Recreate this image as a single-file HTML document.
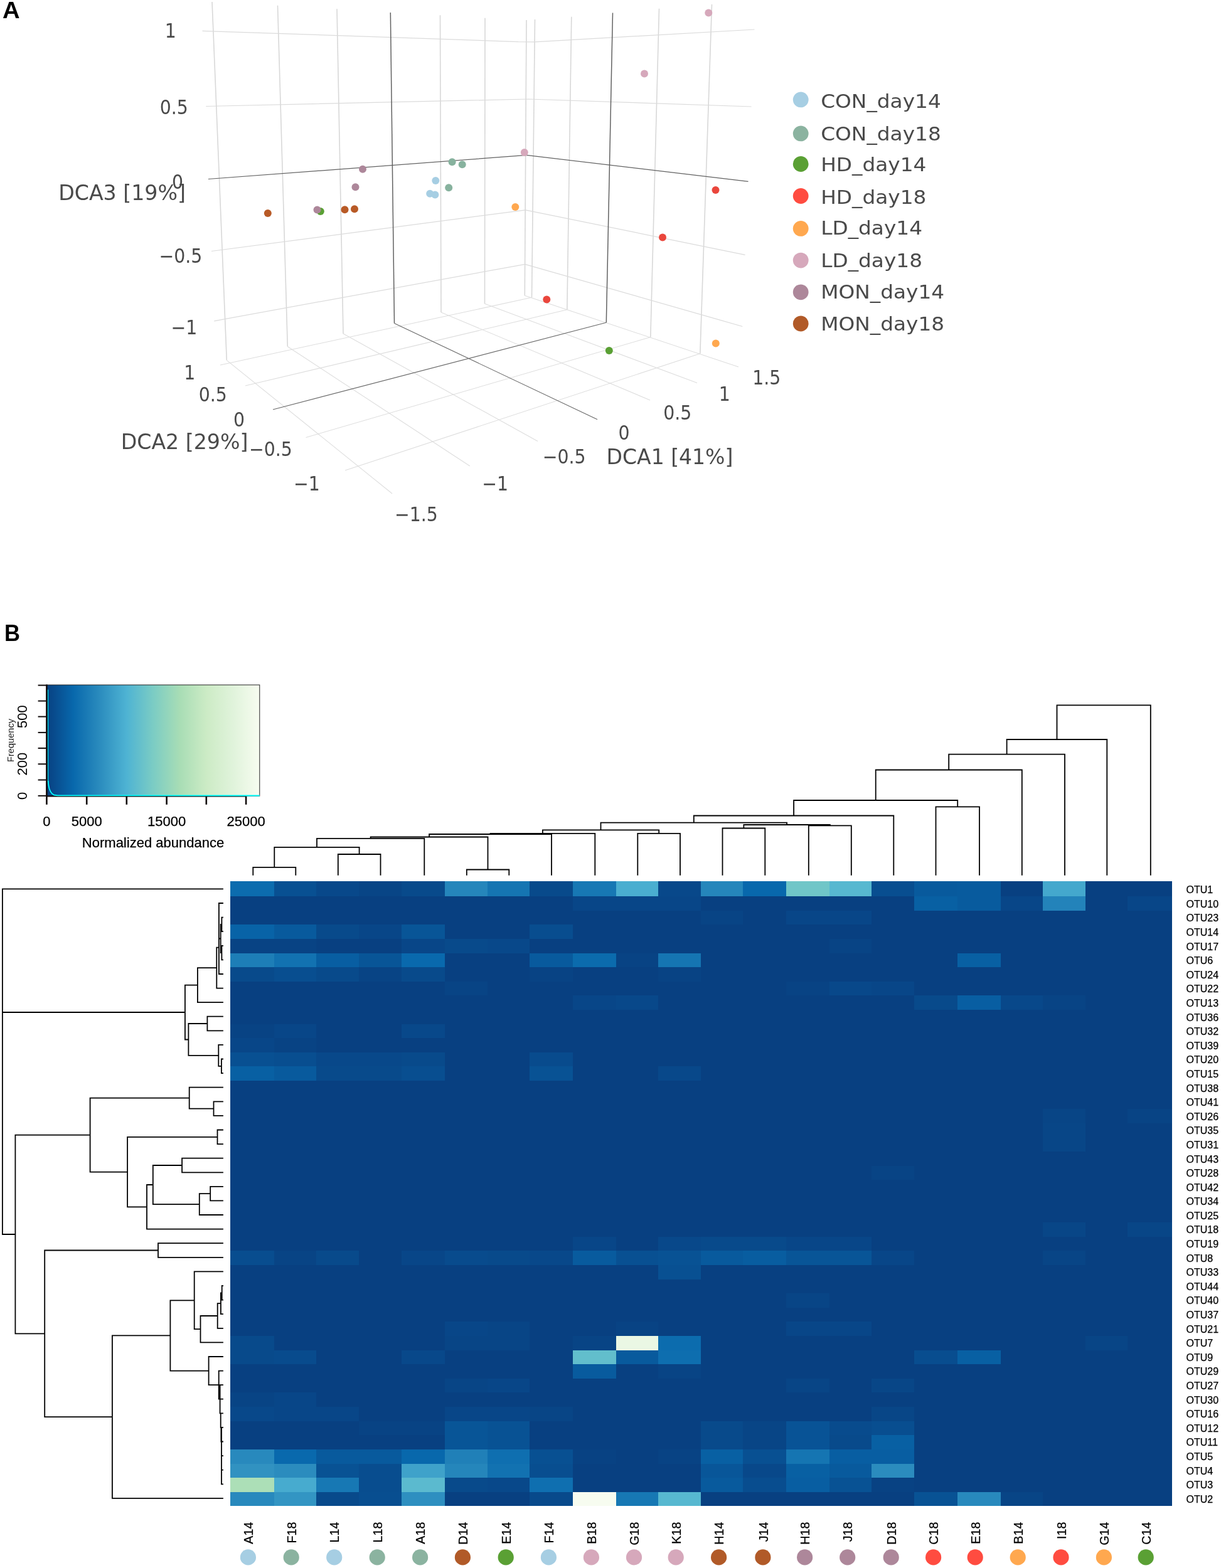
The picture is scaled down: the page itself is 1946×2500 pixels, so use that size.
<!DOCTYPE html>
<html lang="en"><head><meta charset="utf-8"><title>Figure</title>
<style>
html,body{margin:0;padding:0;background:#fff}
svg{display:block}
text{white-space:pre}
</style></head>
<body>
<svg width="1946" height="2500" viewBox="0 0 1946 2500">
<rect x="0" y="0" width="1946" height="2500" fill="#ffffff"/>
<g id="panelA" fill="none" stroke-linecap="butt">
<line x1="338.0" y1="3.0" x2="361.3" y2="574.3" stroke="#d8d8d8" stroke-width="1.6" />
<line x1="442.5" y1="8.8" x2="458.3" y2="552.5" stroke="#d8d8d8" stroke-width="1.6" />
<line x1="537.0" y1="14.3" x2="547.0" y2="532.0" stroke="#d8d8d8" stroke-width="1.6" />
<line x1="701.5" y1="24.3" x2="703.0" y2="498.0" stroke="#d8d8d8" stroke-width="1.6" />
<line x1="773.0" y1="28.8" x2="772.5" y2="484.3" stroke="#d8d8d8" stroke-width="1.6" />
<line x1="839.0" y1="32.0" x2="836.3" y2="471.3" stroke="#d8d8d8" stroke-width="1.6" />
<line x1="852.5" y1="31.0" x2="847.5" y2="474.3" stroke="#d8d8d8" stroke-width="1.6" />
<line x1="910.8" y1="26.8" x2="903.8" y2="493.8" stroke="#d8d8d8" stroke-width="1.6" />
<line x1="1050.5" y1="13.8" x2="1036.8" y2="537.5" stroke="#d8d8d8" stroke-width="1.6" />
<line x1="1134.5" y1="7.0" x2="1115.8" y2="563.8" stroke="#d8d8d8" stroke-width="1.6" />
<line x1="351.0" y1="582.0" x2="847.5" y2="474.3" stroke="#dddddd" stroke-width="1.05" />
<line x1="391.0" y1="615.0" x2="903.8" y2="493.8" stroke="#dddddd" stroke-width="1.05" />
<line x1="487.5" y1="697.5" x2="1036.8" y2="537.5" stroke="#dddddd" stroke-width="1.05" />
<line x1="550.0" y1="750.0" x2="1115.8" y2="563.8" stroke="#dddddd" stroke-width="1.05" />
<line x1="361.3" y1="574.3" x2="625.0" y2="787.0" stroke="#dddddd" stroke-width="1.05" />
<line x1="458.3" y1="552.5" x2="748.8" y2="743.0" stroke="#dddddd" stroke-width="1.05" />
<line x1="547.0" y1="532.0" x2="857.0" y2="703.5" stroke="#dddddd" stroke-width="1.05" />
<line x1="703.0" y1="498.0" x2="1036.0" y2="638.0" stroke="#dddddd" stroke-width="1.05" />
<line x1="772.5" y1="484.3" x2="1111.0" y2="610.5" stroke="#dddddd" stroke-width="1.05" />
<line x1="836.3" y1="471.3" x2="1177.0" y2="585.0" stroke="#dddddd" stroke-width="1.05" />
<polyline points="322.5,49.3 826,66.6 852,66.9 1202.5,47" stroke="#dbdbdb" stroke-width="1.25" stroke-linejoin="round"/>
<polyline points="328.3,169.5 842,158 1197.5,170" stroke="#dbdbdb" stroke-width="1.25" stroke-linejoin="round"/>
<polyline points="337,400.5 837.5,334.8 1187.5,406.3" stroke="#dbdbdb" stroke-width="1.25" stroke-linejoin="round"/>
<polyline points="341.3,511.8 836.8,421.3 1183.3,520.5" stroke="#dbdbdb" stroke-width="1.25" stroke-linejoin="round"/>
<line x1="622.3" y1="20.0" x2="628.5" y2="515.5" stroke="#626262" stroke-width="1.5" />
<line x1="976.5" y1="20.5" x2="966.3" y2="514.3" stroke="#626262" stroke-width="1.5" />
<line x1="435.0" y1="653.0" x2="966.3" y2="514.3" stroke="#686868" stroke-width="1.1" />
<line x1="628.5" y1="515.5" x2="952.0" y2="668.8" stroke="#686868" stroke-width="1.1" />
<polyline points="332,285.5 839,247.4 1192.5,289.3" stroke="#606060" stroke-width="1.2" stroke-linejoin="round"/>
</g>
<g id="pts">
<circle cx="1129.3" cy="20.5" r="6.0" fill="#d6a8bb"/>
<circle cx="1027" cy="117.5" r="6.0" fill="#d6a8bb"/>
<circle cx="835.8" cy="243" r="6.0" fill="#d6a8bb"/>
<circle cx="720.6" cy="258.2" r="6.0" fill="#87b29e"/>
<circle cx="736.7" cy="262.3" r="6.0" fill="#87b29e"/>
<circle cx="715.2" cy="299.3" r="6.0" fill="#87b29e"/>
<circle cx="694.3" cy="288" r="6.0" fill="#a6cee3"/>
<circle cx="685.2" cy="308.8" r="6.0" fill="#a6cee3"/>
<circle cx="693.4" cy="310.4" r="6.0" fill="#a6cee3"/>
<circle cx="510.8" cy="337" r="6.0" fill="#5aa034"/>
<circle cx="970.8" cy="559" r="6.0" fill="#5aa034"/>
<circle cx="578" cy="269.7" r="6.0" fill="#ad879a"/>
<circle cx="566.5" cy="298.2" r="6.0" fill="#ad879a"/>
<circle cx="505.5" cy="334.5" r="6.0" fill="#ad879a"/>
<circle cx="426.8" cy="340" r="6.0" fill="#b85a26"/>
<circle cx="549.5" cy="334.3" r="6.0" fill="#b85a26"/>
<circle cx="565" cy="333.3" r="6.0" fill="#b85a26"/>
<circle cx="821.3" cy="330" r="6.0" fill="#ffa84f"/>
<circle cx="1140.8" cy="547.5" r="6.0" fill="#ffa84f"/>
<circle cx="1140.5" cy="303" r="6.0" fill="#ea463c"/>
<circle cx="1056" cy="378.5" r="6.0" fill="#ea463c"/>
<circle cx="871.3" cy="477.5" r="6.0" fill="#ea463c"/>
</g>
<g id="ticksA">
<text id="t1" x="271.80" y="59.70" font-family="'DejaVu Sans Condensed','DejaVu Sans',sans-serif" font-size="31.5" fill="#4a4a4a" text-anchor="middle" >1</text>
<text id="t2" x="277.20" y="182.00" font-family="'DejaVu Sans Condensed','DejaVu Sans',sans-serif" font-size="31.5" fill="#4a4a4a" text-anchor="middle" >0.5</text>
<text id="t3" x="283.00" y="301.40" font-family="'DejaVu Sans Condensed','DejaVu Sans',sans-serif" font-size="31.5" fill="#4a4a4a" text-anchor="middle" >0</text>
<text id="t4" x="288.00" y="418.80" font-family="'DejaVu Sans Condensed','DejaVu Sans',sans-serif" font-size="31.5" fill="#4a4a4a" text-anchor="middle" >−0.5</text>
<text id="t5" x="293.50" y="532.60" font-family="'DejaVu Sans Condensed','DejaVu Sans',sans-serif" font-size="31.5" fill="#4a4a4a" text-anchor="middle" >−1</text>
<text id="t6" x="302.20" y="604.60" font-family="'DejaVu Sans Condensed','DejaVu Sans',sans-serif" font-size="31.5" fill="#4a4a4a" text-anchor="middle" >1</text>
<text id="t7" x="339.30" y="639.60" font-family="'DejaVu Sans Condensed','DejaVu Sans',sans-serif" font-size="31.5" fill="#4a4a4a" text-anchor="middle" >0.5</text>
<text id="t8" x="381.00" y="680.00" font-family="'DejaVu Sans Condensed','DejaVu Sans',sans-serif" font-size="31.5" fill="#4a4a4a" text-anchor="middle" >0</text>
<text id="t9" x="431.30" y="727.30" font-family="'DejaVu Sans Condensed','DejaVu Sans',sans-serif" font-size="31.5" fill="#4a4a4a" text-anchor="middle" >−0.5</text>
<text id="t10" x="489.00" y="782.10" font-family="'DejaVu Sans Condensed','DejaVu Sans',sans-serif" font-size="31.5" fill="#4a4a4a" text-anchor="middle" >−1</text>
<text id="t11" x="1221.70" y="612.90" font-family="'DejaVu Sans Condensed','DejaVu Sans',sans-serif" font-size="31.5" fill="#4a4a4a" text-anchor="middle" >1.5</text>
<text id="t12" x="1154.80" y="638.80" font-family="'DejaVu Sans Condensed','DejaVu Sans',sans-serif" font-size="31.5" fill="#4a4a4a" text-anchor="middle" >1</text>
<text id="t13" x="1079.70" y="668.50" font-family="'DejaVu Sans Condensed','DejaVu Sans',sans-serif" font-size="31.5" fill="#4a4a4a" text-anchor="middle" >0.5</text>
<text id="t14" x="994.60" y="701.40" font-family="'DejaVu Sans Condensed','DejaVu Sans',sans-serif" font-size="31.5" fill="#4a4a4a" text-anchor="middle" >0</text>
<text id="t15" x="899.10" y="738.90" font-family="'DejaVu Sans Condensed','DejaVu Sans',sans-serif" font-size="31.5" fill="#4a4a4a" text-anchor="middle" >−0.5</text>
<text id="t16" x="789.20" y="781.70" font-family="'DejaVu Sans Condensed','DejaVu Sans',sans-serif" font-size="31.5" fill="#4a4a4a" text-anchor="middle" >−1</text>
<text id="t17" x="663.40" y="831.10" font-family="'DejaVu Sans Condensed','DejaVu Sans',sans-serif" font-size="31.5" fill="#4a4a4a" text-anchor="middle" >−1.5</text>
</g>
<g id="titlesA">
<text id="t18" transform="translate(194.50 318.80) scale(1.085 1)" font-family="'DejaVu Sans Condensed','DejaVu Sans',sans-serif" font-size="34.0" fill="#4a4a4a" text-anchor="middle" >DCA3 [19%]</text>
<text id="t19" transform="translate(294.00 716.40) scale(1.085 1)" font-family="'DejaVu Sans Condensed','DejaVu Sans',sans-serif" font-size="34.0" fill="#4a4a4a" text-anchor="middle" >DCA2 [29%]</text>
<text id="t20" transform="translate(1067.50 739.80) scale(1.08 1)" font-family="'DejaVu Sans Condensed','DejaVu Sans',sans-serif" font-size="34.0" fill="#4a4a4a" text-anchor="middle" >DCA1 [41%]</text>
</g>
<g id="legend">
<circle cx="1276.2" cy="158.9" r="12.4" fill="#a6cee3"/>
<text id="t21" transform="translate(1308.20 172.10) scale(1.064 1)" font-family="'DejaVu Sans','Liberation Sans',sans-serif" font-size="30.8" fill="#4a4a4a" text-anchor="start" >CON_day14</text>
<circle cx="1276.2" cy="212.9" r="12.4" fill="#8bb3a0"/>
<text id="t22" transform="translate(1308.20 223.80) scale(1.064 1)" font-family="'DejaVu Sans','Liberation Sans',sans-serif" font-size="30.8" fill="#4a4a4a" text-anchor="start" >CON_day18</text>
<circle cx="1276.2" cy="261.5" r="12.4" fill="#5aa034"/>
<text id="t23" transform="translate(1308.20 273.20) scale(1.064 1)" font-family="'DejaVu Sans','Liberation Sans',sans-serif" font-size="30.8" fill="#4a4a4a" text-anchor="start" >HD_day14</text>
<circle cx="1276.2" cy="312.5" r="12.4" fill="#ff4c40"/>
<text id="t24" transform="translate(1308.20 325.00) scale(1.064 1)" font-family="'DejaVu Sans','Liberation Sans',sans-serif" font-size="30.8" fill="#4a4a4a" text-anchor="start" >HD_day18</text>
<circle cx="1276.2" cy="364.4" r="12.4" fill="#ffa84f"/>
<text id="t25" transform="translate(1308.20 374.40) scale(1.064 1)" font-family="'DejaVu Sans','Liberation Sans',sans-serif" font-size="30.8" fill="#4a4a4a" text-anchor="start" >LD_day14</text>
<circle cx="1276.2" cy="415.1" r="12.4" fill="#d6a8bb"/>
<text id="t26" transform="translate(1308.20 425.70) scale(1.064 1)" font-family="'DejaVu Sans','Liberation Sans',sans-serif" font-size="30.8" fill="#4a4a4a" text-anchor="start" >LD_day18</text>
<circle cx="1276.2" cy="465.8" r="12.4" fill="#ad879a"/>
<text id="t27" transform="translate(1308.20 475.60) scale(1.064 1)" font-family="'DejaVu Sans','Liberation Sans',sans-serif" font-size="30.8" fill="#4a4a4a" text-anchor="start" >MON_day14</text>
<circle cx="1276.2" cy="516.0" r="12.4" fill="#b15a28"/>
<text id="t28" transform="translate(1308.20 527.40) scale(1.064 1)" font-family="'DejaVu Sans','Liberation Sans',sans-serif" font-size="30.8" fill="#4a4a4a" text-anchor="start" >MON_day18</text>
</g>
<text id="t29" transform="translate(4.10 28.90) scale(1.05 1)" font-family="'Liberation Sans','DejaVu Sans',sans-serif" font-size="36.4" fill="#000000" text-anchor="start" font-weight="bold" >A</text>
<text id="t30" transform="translate(6.90 1022.10) scale(0.95 1)" font-family="'Liberation Sans','DejaVu Sans',sans-serif" font-size="36.4" fill="#000000" text-anchor="start" font-weight="bold" >B</text>
<defs><linearGradient id="gk" x1="0" y1="0" x2="1" y2="0"><stop offset="0.0000" stop-color="#084081"/><stop offset="0.1250" stop-color="#0868AC"/><stop offset="0.2500" stop-color="#2B8CBE"/><stop offset="0.3750" stop-color="#4EB3D3"/><stop offset="0.5000" stop-color="#7BCCC4"/><stop offset="0.6250" stop-color="#A8DDB5"/><stop offset="0.7500" stop-color="#CCEBC5"/><stop offset="0.8750" stop-color="#E0F3DB"/><stop offset="1.0000" stop-color="#F7FCF0"/></linearGradient></defs>
<g id="key">
<rect x="74.4" y="1092.0" width="339.4" height="177.1" fill="url(#gk)"/>
<rect x="74.4" y="1092.0" width="339.4" height="177.1" fill="none" stroke="#222" stroke-width="1"/>
<line x1="74.4" y1="1091.5" x2="74.4" y2="1269.7" stroke="#120c0c" stroke-width="2.6" />
<line x1="60.6" y1="1268.8" x2="74.4" y2="1268.8" stroke="#120c0c" stroke-width="2.0" />
<line x1="60.6" y1="1243.5" x2="74.4" y2="1243.5" stroke="#120c0c" stroke-width="2.0" />
<line x1="60.6" y1="1218.2" x2="74.4" y2="1218.2" stroke="#120c0c" stroke-width="2.0" />
<line x1="60.6" y1="1192.9" x2="74.4" y2="1192.9" stroke="#120c0c" stroke-width="2.0" />
<line x1="60.6" y1="1167.9" x2="74.4" y2="1167.9" stroke="#120c0c" stroke-width="2.0" />
<line x1="60.6" y1="1142.6" x2="74.4" y2="1142.6" stroke="#120c0c" stroke-width="2.0" />
<line x1="60.6" y1="1117.6" x2="74.4" y2="1117.6" stroke="#120c0c" stroke-width="2.0" />
<line x1="60.6" y1="1092.6" x2="74.4" y2="1092.6" stroke="#120c0c" stroke-width="2.0" />
<line x1="74.4" y1="1269.4" x2="392.1" y2="1269.4" stroke="#120c0c" stroke-width="2.0" />
<line x1="74.4" y1="1269.1" x2="74.4" y2="1282.8" stroke="#120c0c" stroke-width="2.6" />
<line x1="138.2" y1="1269.1" x2="138.2" y2="1282.8" stroke="#120c0c" stroke-width="2.6" />
<line x1="201.8" y1="1269.1" x2="201.8" y2="1282.8" stroke="#120c0c" stroke-width="2.6" />
<line x1="265.6" y1="1269.1" x2="265.6" y2="1282.8" stroke="#120c0c" stroke-width="2.6" />
<line x1="328.8" y1="1269.1" x2="328.8" y2="1282.8" stroke="#120c0c" stroke-width="2.6" />
<line x1="392.1" y1="1269.1" x2="392.1" y2="1282.8" stroke="#120c0c" stroke-width="2.6" />
<path d="M76.6 1099.5 L76.7 1246" fill="none" stroke="#00ffff" stroke-width="1.0"/>
<path d="M76.7 1245 L77.4 1252 L78.6 1257.5 L80.4 1262 L82.8 1265.3 L86 1267.5 L92 1268.3 L413.8 1268.5" fill="none" stroke="#00ffff" stroke-width="1.8" stroke-linejoin="round"/>
</g>
<g id="keytext">
<text id="t31" x="74.40" y="1316.60" font-family="'Liberation Sans','DejaVu Sans',sans-serif" font-size="22.0" fill="#000000" text-anchor="middle" stroke="#000" stroke-width="0.25">0</text>
<text id="t32" x="138.20" y="1316.60" font-family="'Liberation Sans','DejaVu Sans',sans-serif" font-size="22.0" fill="#000000" text-anchor="middle" stroke="#000" stroke-width="0.25">5000</text>
<text id="t33" x="265.60" y="1316.60" font-family="'Liberation Sans','DejaVu Sans',sans-serif" font-size="22.0" fill="#000000" text-anchor="middle" stroke="#000" stroke-width="0.25">15000</text>
<text id="t34" x="392.10" y="1316.60" font-family="'Liberation Sans','DejaVu Sans',sans-serif" font-size="22.0" fill="#000000" text-anchor="middle" stroke="#000" stroke-width="0.25">25000</text>
<text id="t35" x="244.00" y="1350.90" font-family="'Liberation Sans','DejaVu Sans',sans-serif" font-size="22.0" fill="#000000" text-anchor="middle" stroke="#000" stroke-width="0.25">Normalized abundance</text>
<text transform="translate(43.2 1268.8) rotate(-90)" font-family="'Liberation Sans','DejaVu Sans',sans-serif" font-size="22.0" fill="#000000" text-anchor="middle">0</text>
<text transform="translate(43.2 1218.2) rotate(-90)" font-family="'Liberation Sans','DejaVu Sans',sans-serif" font-size="22.0" fill="#000000" text-anchor="middle">200</text>
<text transform="translate(43.2 1142.6) rotate(-90)" font-family="'Liberation Sans','DejaVu Sans',sans-serif" font-size="22.0" fill="#000000" text-anchor="middle">500</text>
<text transform="translate(22.0 1180.5) rotate(-90)" font-family="'Liberation Sans','DejaVu Sans',sans-serif" font-size="14.6" fill="#222" text-anchor="middle">Frequency</text>
</g>
<g id="heat" shape-rendering="crispEdges">
<rect x="367.2" y="1404.8" width="1500.6" height="996.5" fill="#084081"/>
<rect x="367.20" y="1404.80" width="69.50" height="24.30" fill="#0c6cae"/>
<rect x="436.70" y="1404.80" width="67.30" height="24.30" fill="#085092"/>
<rect x="504.00" y="1404.80" width="67.80" height="24.30" fill="#08488a"/>
<rect x="571.80" y="1404.80" width="68.20" height="24.30" fill="#084586"/>
<rect x="640.00" y="1404.80" width="68.80" height="24.30" fill="#084a8b"/>
<rect x="708.80" y="1404.80" width="68.10" height="24.30" fill="#2586bb"/>
<rect x="776.90" y="1404.80" width="67.10" height="24.30" fill="#1575b2"/>
<rect x="844.00" y="1404.80" width="68.50" height="24.30" fill="#084a8b"/>
<rect x="912.50" y="1404.80" width="69.10" height="24.30" fill="#1778b4"/>
<rect x="981.60" y="1404.80" width="67.80" height="24.30" fill="#4aaed0"/>
<rect x="1049.40" y="1404.80" width="67.50" height="24.30" fill="#08488a"/>
<rect x="1116.90" y="1404.80" width="67.30" height="24.30" fill="#2586bb"/>
<rect x="1184.20" y="1404.80" width="69.20" height="24.30" fill="#0868ac"/>
<rect x="1253.40" y="1404.80" width="68.50" height="24.30" fill="#70c6c8"/>
<rect x="1321.90" y="1404.80" width="67.50" height="24.30" fill="#57b8d0"/>
<rect x="1389.40" y="1404.80" width="67.50" height="24.30" fill="#084e90"/>
<rect x="1456.90" y="1404.80" width="69.00" height="24.30" fill="#085a9d"/>
<rect x="1525.90" y="1404.80" width="68.70" height="24.30" fill="#085b9e"/>
<rect x="1661.90" y="1404.80" width="67.70" height="24.30" fill="#44a8cd"/>
<rect x="912.50" y="1429.10" width="204.40" height="22.61" fill="#084688"/>
<rect x="1456.90" y="1429.10" width="69.00" height="22.61" fill="#0860a3"/>
<rect x="1525.90" y="1429.10" width="68.70" height="22.61" fill="#085b9e"/>
<rect x="1594.60" y="1429.10" width="67.30" height="22.61" fill="#084688"/>
<rect x="1661.90" y="1429.10" width="67.70" height="22.61" fill="#2383ba"/>
<rect x="1797.20" y="1429.10" width="70.60" height="22.61" fill="#084688"/>
<rect x="1116.90" y="1451.71" width="67.30" height="22.61" fill="#084485"/>
<rect x="1253.40" y="1451.71" width="136.00" height="22.61" fill="#084688"/>
<rect x="367.20" y="1474.32" width="69.50" height="22.61" fill="#0863a7"/>
<rect x="436.70" y="1474.32" width="67.30" height="22.61" fill="#085a9d"/>
<rect x="504.00" y="1474.32" width="67.80" height="22.61" fill="#084a8b"/>
<rect x="571.80" y="1474.32" width="68.20" height="22.61" fill="#084688"/>
<rect x="640.00" y="1474.32" width="68.80" height="22.61" fill="#085597"/>
<rect x="844.00" y="1474.32" width="68.50" height="22.61" fill="#084d8f"/>
<rect x="367.20" y="1496.93" width="136.80" height="22.61" fill="#084384"/>
<rect x="640.00" y="1496.93" width="68.80" height="22.61" fill="#084688"/>
<rect x="708.80" y="1496.93" width="68.10" height="22.61" fill="#084a8b"/>
<rect x="776.90" y="1496.93" width="67.10" height="22.61" fill="#08488a"/>
<rect x="1321.90" y="1496.93" width="67.50" height="22.61" fill="#084485"/>
<rect x="367.20" y="1519.54" width="69.50" height="22.61" fill="#1d7eb7"/>
<rect x="436.70" y="1519.54" width="67.30" height="22.61" fill="#1272b1"/>
<rect x="504.00" y="1519.54" width="67.80" height="22.61" fill="#085ea2"/>
<rect x="571.80" y="1519.54" width="68.20" height="22.61" fill="#085597"/>
<rect x="640.00" y="1519.54" width="68.80" height="22.61" fill="#0969ad"/>
<rect x="844.00" y="1519.54" width="68.50" height="22.61" fill="#085a9d"/>
<rect x="912.50" y="1519.54" width="69.10" height="22.61" fill="#0b6bad"/>
<rect x="981.60" y="1519.54" width="67.80" height="22.61" fill="#084384"/>
<rect x="1049.40" y="1519.54" width="67.50" height="22.61" fill="#1575b2"/>
<rect x="1525.90" y="1519.54" width="68.70" height="22.61" fill="#0860a3"/>
<rect x="367.20" y="1542.15" width="69.50" height="22.61" fill="#084a8b"/>
<rect x="436.70" y="1542.15" width="67.30" height="22.61" fill="#084e90"/>
<rect x="504.00" y="1542.15" width="67.80" height="22.61" fill="#084a8b"/>
<rect x="571.80" y="1542.15" width="68.20" height="22.61" fill="#084485"/>
<rect x="640.00" y="1542.15" width="68.80" height="22.61" fill="#084a8b"/>
<rect x="844.00" y="1542.15" width="68.50" height="22.61" fill="#084384"/>
<rect x="1049.40" y="1542.15" width="67.50" height="22.61" fill="#084384"/>
<rect x="708.80" y="1564.76" width="68.10" height="22.61" fill="#084485"/>
<rect x="1253.40" y="1564.76" width="68.50" height="22.61" fill="#084384"/>
<rect x="1321.90" y="1564.76" width="67.50" height="22.61" fill="#08488a"/>
<rect x="1389.40" y="1564.76" width="67.50" height="22.61" fill="#084688"/>
<rect x="912.50" y="1587.37" width="69.10" height="22.61" fill="#084688"/>
<rect x="981.60" y="1587.37" width="67.80" height="22.61" fill="#08488a"/>
<rect x="1456.90" y="1587.37" width="69.00" height="22.61" fill="#084a8b"/>
<rect x="1525.90" y="1587.37" width="68.70" height="22.61" fill="#085ea2"/>
<rect x="1594.60" y="1587.37" width="67.30" height="22.61" fill="#08488a"/>
<rect x="1661.90" y="1587.37" width="67.70" height="22.61" fill="#084485"/>
<rect x="367.20" y="1632.59" width="69.50" height="22.61" fill="#084384"/>
<rect x="436.70" y="1632.59" width="67.30" height="22.61" fill="#084688"/>
<rect x="640.00" y="1632.59" width="68.80" height="22.61" fill="#08488a"/>
<rect x="367.20" y="1655.20" width="69.50" height="22.61" fill="#084688"/>
<rect x="436.70" y="1655.20" width="67.30" height="22.61" fill="#084384"/>
<rect x="367.20" y="1677.81" width="69.50" height="22.61" fill="#085092"/>
<rect x="436.70" y="1677.81" width="67.30" height="22.61" fill="#084e90"/>
<rect x="504.00" y="1677.81" width="136.00" height="22.61" fill="#08488a"/>
<rect x="640.00" y="1677.81" width="68.80" height="22.61" fill="#084a8b"/>
<rect x="844.00" y="1677.81" width="68.50" height="22.61" fill="#084b8d"/>
<rect x="367.20" y="1700.42" width="69.50" height="22.61" fill="#0860a3"/>
<rect x="436.70" y="1700.42" width="67.30" height="22.61" fill="#085a9d"/>
<rect x="504.00" y="1700.42" width="136.00" height="22.61" fill="#084a8b"/>
<rect x="640.00" y="1700.42" width="68.80" height="22.61" fill="#084e90"/>
<rect x="844.00" y="1700.42" width="68.50" height="22.61" fill="#085294"/>
<rect x="1049.40" y="1700.42" width="67.50" height="22.61" fill="#08488a"/>
<rect x="1661.90" y="1768.25" width="67.70" height="22.61" fill="#084586"/>
<rect x="1797.20" y="1768.25" width="70.60" height="22.61" fill="#084485"/>
<rect x="1661.90" y="1790.86" width="67.70" height="22.61" fill="#084687"/>
<rect x="1661.90" y="1813.47" width="67.70" height="22.61" fill="#084687"/>
<rect x="1389.40" y="1858.69" width="67.50" height="22.61" fill="#084485"/>
<rect x="1661.90" y="1949.13" width="67.70" height="22.61" fill="#084687"/>
<rect x="1797.20" y="1949.13" width="70.60" height="22.61" fill="#084687"/>
<rect x="912.50" y="1971.74" width="69.10" height="22.61" fill="#084688"/>
<rect x="1049.40" y="1971.74" width="67.50" height="22.61" fill="#08488a"/>
<rect x="1116.90" y="1971.74" width="136.50" height="22.61" fill="#084a8b"/>
<rect x="1253.40" y="1971.74" width="136.00" height="22.61" fill="#084688"/>
<rect x="367.20" y="1994.35" width="69.50" height="22.61" fill="#084d8f"/>
<rect x="436.70" y="1994.35" width="67.30" height="22.61" fill="#084485"/>
<rect x="504.00" y="1994.35" width="67.80" height="22.61" fill="#084a8b"/>
<rect x="640.00" y="1994.35" width="68.80" height="22.61" fill="#084688"/>
<rect x="708.80" y="1994.35" width="68.10" height="22.61" fill="#084b8d"/>
<rect x="776.90" y="1994.35" width="67.10" height="22.61" fill="#084a8b"/>
<rect x="844.00" y="1994.35" width="68.50" height="22.61" fill="#08488a"/>
<rect x="912.50" y="1994.35" width="69.10" height="22.61" fill="#085b9e"/>
<rect x="981.60" y="1994.35" width="67.80" height="22.61" fill="#085092"/>
<rect x="1049.40" y="1994.35" width="67.50" height="22.61" fill="#085294"/>
<rect x="1116.90" y="1994.35" width="67.30" height="22.61" fill="#085a9d"/>
<rect x="1184.20" y="1994.35" width="69.20" height="22.61" fill="#085da0"/>
<rect x="1253.40" y="1994.35" width="136.00" height="22.61" fill="#085597"/>
<rect x="1389.40" y="1994.35" width="67.50" height="22.61" fill="#084688"/>
<rect x="1661.90" y="1994.35" width="67.70" height="22.61" fill="#084586"/>
<rect x="1049.40" y="2016.96" width="67.50" height="22.61" fill="#085092"/>
<rect x="1253.40" y="2062.18" width="68.50" height="22.61" fill="#084586"/>
<rect x="708.80" y="2107.40" width="68.10" height="22.61" fill="#084688"/>
<rect x="776.90" y="2107.40" width="67.10" height="22.61" fill="#084586"/>
<rect x="981.60" y="2107.40" width="67.80" height="22.61" fill="#084384"/>
<rect x="1253.40" y="2107.40" width="136.00" height="22.61" fill="#084688"/>
<rect x="367.20" y="2130.01" width="69.50" height="22.61" fill="#084a8b"/>
<rect x="708.80" y="2130.01" width="135.20" height="22.61" fill="#084586"/>
<rect x="912.50" y="2130.01" width="69.10" height="22.61" fill="#084485"/>
<rect x="981.60" y="2130.01" width="67.80" height="22.61" fill="#eaf7e4"/>
<rect x="1049.40" y="2130.01" width="67.50" height="22.61" fill="#0c6cae"/>
<rect x="1729.60" y="2130.01" width="67.60" height="22.61" fill="#084586"/>
<rect x="367.20" y="2152.62" width="69.50" height="22.61" fill="#084a8b"/>
<rect x="436.70" y="2152.62" width="67.30" height="22.61" fill="#084b8d"/>
<rect x="640.00" y="2152.62" width="68.80" height="22.61" fill="#08488a"/>
<rect x="912.50" y="2152.62" width="69.10" height="22.61" fill="#62becc"/>
<rect x="981.60" y="2152.62" width="67.80" height="22.61" fill="#085a9d"/>
<rect x="1049.40" y="2152.62" width="67.50" height="22.61" fill="#0e6eaf"/>
<rect x="1456.90" y="2152.62" width="69.00" height="22.61" fill="#084d8f"/>
<rect x="1525.90" y="2152.62" width="68.70" height="22.61" fill="#0860a3"/>
<rect x="912.50" y="2175.23" width="69.10" height="22.61" fill="#085b9e"/>
<rect x="1049.40" y="2175.23" width="67.50" height="22.61" fill="#084485"/>
<rect x="708.80" y="2197.84" width="68.10" height="22.61" fill="#084586"/>
<rect x="776.90" y="2197.84" width="67.10" height="22.61" fill="#084688"/>
<rect x="1253.40" y="2197.84" width="68.50" height="22.61" fill="#084586"/>
<rect x="1389.40" y="2197.84" width="67.50" height="22.61" fill="#084687"/>
<rect x="367.20" y="2220.45" width="69.50" height="22.61" fill="#084485"/>
<rect x="436.70" y="2220.45" width="67.30" height="22.61" fill="#084688"/>
<rect x="367.20" y="2243.06" width="69.50" height="22.61" fill="#08488a"/>
<rect x="436.70" y="2243.06" width="135.10" height="22.61" fill="#084688"/>
<rect x="708.80" y="2243.06" width="135.20" height="22.61" fill="#084688"/>
<rect x="844.00" y="2243.06" width="68.50" height="22.61" fill="#084586"/>
<rect x="1389.40" y="2243.06" width="67.50" height="22.61" fill="#084687"/>
<rect x="571.80" y="2265.67" width="137.00" height="22.61" fill="#084384"/>
<rect x="708.80" y="2265.67" width="68.10" height="22.61" fill="#085597"/>
<rect x="776.90" y="2265.67" width="67.10" height="22.61" fill="#085294"/>
<rect x="1116.90" y="2265.67" width="67.30" height="22.61" fill="#084a8b"/>
<rect x="1184.20" y="2265.67" width="69.20" height="22.61" fill="#084586"/>
<rect x="1253.40" y="2265.67" width="68.50" height="22.61" fill="#085396"/>
<rect x="1321.90" y="2265.67" width="67.50" height="22.61" fill="#084b8d"/>
<rect x="1389.40" y="2265.67" width="67.50" height="22.61" fill="#084e90"/>
<rect x="708.80" y="2288.28" width="68.10" height="22.61" fill="#085597"/>
<rect x="776.90" y="2288.28" width="67.10" height="22.61" fill="#085294"/>
<rect x="1116.90" y="2288.28" width="67.30" height="22.61" fill="#084a8b"/>
<rect x="1184.20" y="2288.28" width="69.20" height="22.61" fill="#084586"/>
<rect x="1253.40" y="2288.28" width="68.50" height="22.61" fill="#085396"/>
<rect x="1321.90" y="2288.28" width="67.50" height="22.61" fill="#084a8b"/>
<rect x="1389.40" y="2288.28" width="67.50" height="22.61" fill="#0860a3"/>
<rect x="367.20" y="2310.89" width="69.50" height="22.61" fill="#2889bd"/>
<rect x="436.70" y="2310.89" width="67.30" height="22.61" fill="#0969ad"/>
<rect x="504.00" y="2310.89" width="136.00" height="22.61" fill="#085a9d"/>
<rect x="640.00" y="2310.89" width="68.80" height="22.61" fill="#0868ac"/>
<rect x="708.80" y="2310.89" width="68.10" height="22.61" fill="#2080b8"/>
<rect x="776.90" y="2310.89" width="67.10" height="22.61" fill="#0f6fb0"/>
<rect x="844.00" y="2310.89" width="68.50" height="22.61" fill="#085092"/>
<rect x="912.50" y="2310.89" width="69.10" height="22.61" fill="#084283"/>
<rect x="1049.40" y="2310.89" width="67.50" height="22.61" fill="#084384"/>
<rect x="1116.90" y="2310.89" width="67.30" height="22.61" fill="#0860a3"/>
<rect x="1184.20" y="2310.89" width="69.20" height="22.61" fill="#085092"/>
<rect x="1253.40" y="2310.89" width="68.50" height="22.61" fill="#1575b2"/>
<rect x="1321.90" y="2310.89" width="135.00" height="22.61" fill="#085ea2"/>
<rect x="367.20" y="2333.50" width="69.50" height="22.61" fill="#3192c1"/>
<rect x="436.70" y="2333.50" width="67.30" height="22.61" fill="#2b8cbe"/>
<rect x="504.00" y="2333.50" width="67.80" height="22.61" fill="#085294"/>
<rect x="571.80" y="2333.50" width="68.20" height="22.61" fill="#084d8f"/>
<rect x="640.00" y="2333.50" width="68.80" height="22.61" fill="#3fa2ca"/>
<rect x="708.80" y="2333.50" width="68.10" height="22.61" fill="#2586bb"/>
<rect x="776.90" y="2333.50" width="67.10" height="22.61" fill="#1272b1"/>
<rect x="844.00" y="2333.50" width="68.50" height="22.61" fill="#084e90"/>
<rect x="1116.90" y="2333.50" width="67.30" height="22.61" fill="#085699"/>
<rect x="1184.20" y="2333.50" width="69.20" height="22.61" fill="#08488a"/>
<rect x="1253.40" y="2333.50" width="68.50" height="22.61" fill="#0860a3"/>
<rect x="1321.90" y="2333.50" width="67.50" height="22.61" fill="#085a9d"/>
<rect x="1389.40" y="2333.50" width="67.50" height="22.61" fill="#2b8cbe"/>
<rect x="367.20" y="2356.11" width="69.50" height="22.61" fill="#acdfb7"/>
<rect x="436.70" y="2356.11" width="67.30" height="22.61" fill="#47abcf"/>
<rect x="504.00" y="2356.11" width="67.80" height="22.61" fill="#1778b4"/>
<rect x="571.80" y="2356.11" width="68.20" height="22.61" fill="#084d8f"/>
<rect x="640.00" y="2356.11" width="68.80" height="22.61" fill="#5bbacf"/>
<rect x="708.80" y="2356.11" width="68.10" height="22.61" fill="#084a8b"/>
<rect x="776.90" y="2356.11" width="67.10" height="22.61" fill="#08488a"/>
<rect x="844.00" y="2356.11" width="68.50" height="22.61" fill="#0f6fb0"/>
<rect x="1116.90" y="2356.11" width="67.30" height="22.61" fill="#085a9d"/>
<rect x="1184.20" y="2356.11" width="69.20" height="22.61" fill="#084d8f"/>
<rect x="1253.40" y="2356.11" width="68.50" height="22.61" fill="#085ea2"/>
<rect x="1321.90" y="2356.11" width="67.50" height="22.61" fill="#085294"/>
<rect x="1389.40" y="2356.11" width="67.50" height="22.61" fill="#084283"/>
<rect x="367.20" y="2378.72" width="69.50" height="22.58" fill="#2889bd"/>
<rect x="436.70" y="2378.72" width="67.30" height="22.58" fill="#3395c3"/>
<rect x="504.00" y="2378.72" width="67.80" height="22.58" fill="#084a8b"/>
<rect x="571.80" y="2378.72" width="68.20" height="22.58" fill="#084e90"/>
<rect x="640.00" y="2378.72" width="68.80" height="22.58" fill="#2e8fc0"/>
<rect x="844.00" y="2378.72" width="68.50" height="22.58" fill="#084a8b"/>
<rect x="912.50" y="2378.72" width="69.10" height="22.58" fill="#f7fcf0"/>
<rect x="981.60" y="2378.72" width="67.80" height="22.58" fill="#1778b4"/>
<rect x="1049.40" y="2378.72" width="67.50" height="22.58" fill="#57b8d0"/>
<rect x="1456.90" y="2378.72" width="69.00" height="22.58" fill="#085294"/>
<rect x="1525.90" y="2378.72" width="68.70" height="22.58" fill="#2889bd"/>
<rect x="1594.60" y="2378.72" width="67.30" height="22.58" fill="#084586"/>
</g>
<g id="otu" font-family="'Liberation Sans','DejaVu Sans',sans-serif" font-size="16" fill="#000000" stroke="#000000" stroke-width="0.25">
<text x="1890.6" y="1424.2">OTU1</text>
<text x="1890.6" y="1446.8">OTU10</text>
<text x="1890.6" y="1469.4">OTU23</text>
<text x="1890.6" y="1492.0">OTU14</text>
<text x="1890.6" y="1514.6">OTU17</text>
<text x="1890.6" y="1537.2">OTU6</text>
<text x="1890.6" y="1559.8">OTU24</text>
<text x="1890.6" y="1582.4">OTU22</text>
<text x="1890.6" y="1604.9">OTU13</text>
<text x="1890.6" y="1627.5">OTU36</text>
<text x="1890.6" y="1650.1">OTU32</text>
<text x="1890.6" y="1672.7">OTU39</text>
<text x="1890.6" y="1695.3">OTU20</text>
<text x="1890.6" y="1717.9">OTU15</text>
<text x="1890.6" y="1740.5">OTU38</text>
<text x="1890.6" y="1763.1">OTU41</text>
<text x="1890.6" y="1785.7">OTU26</text>
<text x="1890.6" y="1808.3">OTU35</text>
<text x="1890.6" y="1830.9">OTU31</text>
<text x="1890.6" y="1853.5">OTU43</text>
<text x="1890.6" y="1876.1">OTU28</text>
<text x="1890.6" y="1898.7">OTU42</text>
<text x="1890.6" y="1921.2">OTU34</text>
<text x="1890.6" y="1943.8">OTU25</text>
<text x="1890.6" y="1966.4">OTU18</text>
<text x="1890.6" y="1989.0">OTU19</text>
<text x="1890.6" y="2011.6">OTU8</text>
<text x="1890.6" y="2034.2">OTU33</text>
<text x="1890.6" y="2056.8">OTU44</text>
<text x="1890.6" y="2079.4">OTU40</text>
<text x="1890.6" y="2102.0">OTU37</text>
<text x="1890.6" y="2124.6">OTU21</text>
<text x="1890.6" y="2147.2">OTU7</text>
<text x="1890.6" y="2169.8">OTU9</text>
<text x="1890.6" y="2192.4">OTU29</text>
<text x="1890.6" y="2215.0">OTU27</text>
<text x="1890.6" y="2237.5">OTU30</text>
<text x="1890.6" y="2260.1">OTU16</text>
<text x="1890.6" y="2282.7">OTU12</text>
<text x="1890.6" y="2305.3">OTU11</text>
<text x="1890.6" y="2327.9">OTU5</text>
<text x="1890.6" y="2350.5">OTU4</text>
<text x="1890.6" y="2373.1">OTU3</text>
<text x="1890.6" y="2395.7">OTU2</text>
</g>
<g id="collab" font-family="'Liberation Sans','DejaVu Sans',sans-serif" font-size="19.7" fill="#000000" stroke="#000000" stroke-width="0.25" text-anchor="end">
<text transform="translate(403.1 2426.6) rotate(-90)">A14</text>
<text transform="translate(471.9 2426.6) rotate(-90)">F18</text>
<text transform="translate(540.4 2426.6) rotate(-90)">L14</text>
<text transform="translate(608.9 2426.6) rotate(-90)">L18</text>
<text transform="translate(677.3 2426.6) rotate(-90)">A18</text>
<text transform="translate(745.1 2426.6) rotate(-90)">D14</text>
<text transform="translate(813.9 2426.6) rotate(-90)">E14</text>
<text transform="translate(882.1 2426.6) rotate(-90)">F14</text>
<text transform="translate(950.1 2426.6) rotate(-90)">B18</text>
<text transform="translate(1018.2 2426.6) rotate(-90)">G18</text>
<text transform="translate(1084.9 2426.6) rotate(-90)">K18</text>
<text transform="translate(1153.3 2426.6) rotate(-90)">H14</text>
<text transform="translate(1223.6 2426.6) rotate(-90)">J14</text>
<text transform="translate(1290.3 2426.6) rotate(-90)">H18</text>
<text transform="translate(1358.4 2426.6) rotate(-90)">J18</text>
<text transform="translate(1427.9 2426.6) rotate(-90)">D18</text>
<text transform="translate(1495.3 2426.6) rotate(-90)">C18</text>
<text transform="translate(1561.9 2426.6) rotate(-90)">E18</text>
<text transform="translate(1629.9 2426.6) rotate(-90)">B14</text>
<text transform="translate(1698.7 2426.6) rotate(-90)">I18</text>
<text transform="translate(1767.1 2426.6) rotate(-90)">G14</text>
<text transform="translate(1833.9 2426.6) rotate(-90)">C14</text>
</g>
<g id="colcirc">
<circle cx="395.4" cy="2482.9" r="12.6" fill="#a6cee3"/>
<circle cx="464.2" cy="2482.9" r="12.6" fill="#8bb3a0"/>
<circle cx="532.7" cy="2482.9" r="12.6" fill="#a6cee3"/>
<circle cx="601.2" cy="2482.9" r="12.6" fill="#8bb3a0"/>
<circle cx="669.6" cy="2482.9" r="12.6" fill="#8bb3a0"/>
<circle cx="737.4" cy="2482.9" r="12.6" fill="#b15a28"/>
<circle cx="806.2" cy="2482.9" r="12.6" fill="#5aa034"/>
<circle cx="874.4" cy="2482.9" r="12.6" fill="#a6cee3"/>
<circle cx="942.4" cy="2482.9" r="12.6" fill="#d6a8bb"/>
<circle cx="1010.5" cy="2482.9" r="12.6" fill="#d6a8bb"/>
<circle cx="1077.2" cy="2482.9" r="12.6" fill="#d6a8bb"/>
<circle cx="1145.6" cy="2482.9" r="12.6" fill="#b15a28"/>
<circle cx="1215.9" cy="2482.9" r="12.6" fill="#b15a28"/>
<circle cx="1282.6" cy="2482.9" r="12.6" fill="#ad879a"/>
<circle cx="1350.7" cy="2482.9" r="12.6" fill="#ad879a"/>
<circle cx="1420.2" cy="2482.9" r="12.6" fill="#ad879a"/>
<circle cx="1487.6" cy="2482.9" r="12.6" fill="#ff4c40"/>
<circle cx="1554.2" cy="2482.9" r="12.6" fill="#ff4c40"/>
<circle cx="1622.2" cy="2482.9" r="12.6" fill="#ffa84f"/>
<circle cx="1691" cy="2482.9" r="12.6" fill="#ff4c40"/>
<circle cx="1759.4" cy="2482.9" r="12.6" fill="#ffa84f"/>
<circle cx="1826.2" cy="2482.9" r="12.6" fill="#5aa034"/>
</g>
<path id="cdend" d="M403.3 1394.9L403.3 1382.8M471.3 1394.9L471.3 1382.8M403.3 1382.8L471.3 1382.8M538.8 1394.9L538.8 1362.0M606.5 1394.9L606.5 1362.0M538.8 1362.0L606.5 1362.0M437.3 1382.8L437.3 1350.8M572.6 1362.0L572.6 1350.8M437.3 1350.8L572.6 1350.8M505.0 1350.8L505.0 1336.8M676.3 1394.9L676.3 1336.8M505.0 1336.8L676.3 1336.8M743.8 1394.9L743.8 1386.5M811.3 1394.9L811.3 1386.5M743.8 1386.5L811.3 1386.5M590.6 1336.8L590.6 1334.5M777.5 1386.5L777.5 1334.5M590.6 1334.5L777.5 1334.5M684.1 1334.5L684.1 1330.0M879.0 1394.9L879.0 1330.0M684.1 1330.0L879.0 1330.0M781.5 1330.0L781.5 1328.8M948.3 1394.9L948.3 1328.8M781.5 1328.8L948.3 1328.8M1016.3 1394.9L1016.3 1328.8M1084.0 1394.9L1084.0 1328.8M1016.3 1328.8L1084.0 1328.8M864.9 1328.8L864.9 1323.3M1050.2 1328.8L1050.2 1323.3M864.9 1323.3L1050.2 1323.3M1151.5 1394.9L1151.5 1320.5M1219.3 1394.9L1219.3 1320.5M1151.5 1320.5L1219.3 1320.5M1288.8 1394.9L1288.8 1316.3M1356.8 1394.9L1356.8 1316.3M1288.8 1316.3L1356.8 1316.3M1185.4 1320.5L1185.4 1315.0M1322.8 1316.3L1322.8 1315.0M1185.4 1315.0L1322.8 1315.0M957.5 1323.3L957.5 1311.7M1254.1 1315.0L1254.1 1311.7M957.5 1311.7L1254.1 1311.7M1105.8 1311.7L1105.8 1300.5M1424.3 1394.9L1424.3 1300.5M1105.8 1300.5L1424.3 1300.5M1491.5 1394.9L1491.5 1286.4M1561.0 1394.9L1561.0 1286.4M1491.5 1286.4L1561.0 1286.4M1265.1 1300.5L1265.1 1276.0M1526.2 1286.4L1526.2 1276.0M1265.1 1276.0L1526.2 1276.0M1395.7 1276.0L1395.7 1227.5M1628.8 1394.9L1628.8 1227.5M1395.7 1227.5L1628.8 1227.5M1512.2 1227.5L1512.2 1202.7M1697.0 1394.9L1697.0 1202.7M1512.2 1202.7L1697.0 1202.7M1604.6 1202.7L1604.6 1179.0M1764.3 1394.9L1764.3 1179.0M1604.6 1179.0L1764.3 1179.0M1684.5 1179.0L1684.5 1124.3M1833.8 1394.9L1833.8 1124.3M1684.5 1124.3L1833.8 1124.3" fill="none" stroke="#000000" stroke-width="1.8" stroke-linecap="square"/>
<path id="rdend" d="M355.0 1462.6L353.4 1462.6M355.0 1485.2L353.4 1485.2M353.4 1462.6L353.4 1485.2M355.0 1507.8L353.4 1507.8M355.0 1530.4L353.4 1530.4M353.4 1507.8L353.4 1530.4M353.4 1473.9L351.7 1473.9M353.4 1519.1L351.7 1519.1M351.7 1473.9L351.7 1519.1M355.0 1440.0L348.9 1440.0M351.7 1496.5L348.9 1496.5M348.9 1440.0L348.9 1496.5M348.9 1468.2L348.9 1468.2M355.0 1553.0L348.9 1553.0M348.9 1468.2L348.9 1553.0M348.9 1510.6L345.3 1510.6M355.0 1575.6L345.3 1575.6M345.3 1510.6L345.3 1575.6M345.3 1543.1L314.9 1543.1M355.0 1598.1L314.9 1598.1M314.9 1543.1L314.9 1598.1M355.0 1620.7L330.4 1620.7M355.0 1643.3L330.4 1643.3M330.4 1620.7L330.4 1643.3M355.0 1688.5L352.9 1688.5M355.0 1711.1L352.9 1711.1M352.9 1688.5L352.9 1711.1M355.0 1665.9L348.3 1665.9M352.9 1699.8L348.3 1699.8M348.3 1665.9L348.3 1699.8M330.4 1632.0L300.4 1632.0M348.3 1682.9L300.4 1682.9M300.4 1632.0L300.4 1682.9M314.9 1570.6L294.9 1570.6M300.4 1657.5L294.9 1657.5M294.9 1570.6L294.9 1657.5M355.0 1756.3L340.5 1756.3M355.0 1778.9L340.5 1778.9M340.5 1756.3L340.5 1778.9M355.0 1733.7L301.7 1733.7M340.5 1767.6L301.7 1767.6M301.7 1733.7L301.7 1767.6M355.0 1801.5L346.5 1801.5M355.0 1824.1L346.5 1824.1M346.5 1801.5L346.5 1824.1M355.0 1846.7L290.1 1846.7M355.0 1869.3L290.1 1869.3M290.1 1846.7L290.1 1869.3M355.0 1891.9L335.2 1891.9M355.0 1914.4L335.2 1914.4M335.2 1891.9L335.2 1914.4M335.2 1903.1L317.8 1903.1M355.0 1937.0L317.8 1937.0M317.8 1903.1L317.8 1937.0M290.1 1858.0L243.8 1858.0M317.8 1920.1L243.8 1920.1M243.8 1858.0L243.8 1920.1M243.8 1889.0L234.0 1889.0M355.0 1959.6L234.0 1959.6M234.0 1889.0L234.0 1959.6M346.5 1812.8L203.1 1812.8M234.0 1924.3L203.1 1924.3M203.1 1812.8L203.1 1924.3M301.7 1750.6L143.6 1750.6M203.1 1868.6L143.6 1868.6M143.6 1750.6L143.6 1868.6M355.0 1982.2L252.0 1982.2M355.0 2004.8L252.0 2004.8M252.0 1982.2L252.0 2004.8M355.0 2050.0L353.7 2050.0M355.0 2072.6L353.7 2072.6M353.7 2050.0L353.7 2072.6M353.7 2061.3L351.9 2061.3M355.0 2095.2L351.9 2095.2M351.9 2061.3L351.9 2095.2M351.9 2078.2L346.7 2078.2M355.0 2117.8L346.7 2117.8M346.7 2078.2L346.7 2117.8M346.7 2098.0L319.5 2098.0M355.0 2140.4L319.5 2140.4M319.5 2098.0L319.5 2140.4M355.0 2027.4L309.7 2027.4M319.5 2119.2L309.7 2119.2M309.7 2027.4L309.7 2119.2M348.7 2185.6L348.7 2230.7M350.6 2208.2L350.6 2253.3M351.7 2253.3L351.7 2275.9M352.4 2275.9L352.4 2298.5M353.0 2275.9L353.0 2366.3M348.7 2185.6L355.0 2185.6M348.7 2208.2L355.0 2208.2M348.7 2230.7L355.0 2230.7M350.6 2253.3L355.0 2253.3M351.7 2275.9L355.0 2275.9M353.0 2298.5L355.0 2298.5M353.0 2321.1L355.0 2321.1M353.0 2343.7L355.0 2343.7M353.0 2366.3L355.0 2366.3M355.0 2163.0L332.6 2163.0M348.7 2208.2L332.6 2208.2M332.6 2163.0L332.6 2208.2M309.7 2073.3L271.4 2073.3M332.6 2185.6L271.4 2185.6M271.4 2073.3L271.4 2185.6M271.4 2129.4L178.9 2129.4M355.0 2388.9L178.9 2388.9M178.9 2129.4L178.9 2388.9M252.0 1993.5L71.2 1993.5M178.9 2259.2L71.2 2259.2M71.2 1993.5L71.2 2259.2M143.6 1809.6L24.4 1809.6M71.2 2126.3L24.4 2126.3M24.4 1809.6L24.4 2126.3M294.9 1614.0L3.9 1614.0M24.4 1968.0L3.9 1968.0M3.9 1614.0L3.9 1968.0M355.0 1417.4L3.9 1417.4M3.9 1791.0L3.9 1791.0M3.9 1417.4L3.9 1791.0" fill="none" stroke="#000000" stroke-width="1.8" stroke-linecap="square"/>
</svg>
</body></html>
